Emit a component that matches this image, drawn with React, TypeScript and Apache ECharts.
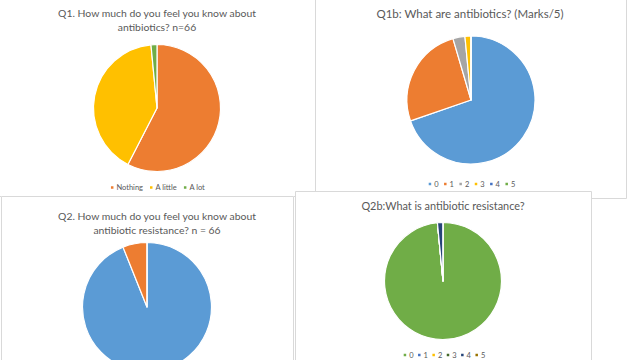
import React, { useEffect, useRef } from "react";
import * as echarts from "echarts";

// ---- Data ----
const q1Categories = ["Nothing", "A little", "A lot"];
const q1Values = [38, 27, 1];

const q1bCategories = ["0", "1", "2", "3", "4", "5"];
const q1bValues = [46, 17, 2, 1, 0, 0];

const q2Categories = ["Nothing", "A little", "A lot"];
const q2Values = [62, 4, 0];

const q2bCategories = ["0", "1", "2", "3", "4", "5"];
const q2bValues = [65, 0, 0, 0, 1, 0];

// ---- Styles ----
const FONT = "Lato, 'Open Sans', sans-serif";
const TITLE_COLOR = "#595959";
const BORDER = "#D9D9D9";

const q1Colors = ["#ED7D31", "#FFC000", "#70AD47"];
const q1bColors = ["#5B9BD5", "#ED7D31", "#A5A5A5", "#FFC000", "#4472C4", "#70AD47"];
const q2Colors = ["#5B9BD5", "#ED7D31", "#A5A5A5"];
const q2bColors = ["#70AD47", "#4472C4", "#FFC000", "#43682B", "#264478", "#997300"];

type Panel = {
  left: number;
  top: number;
  width: number;
  height: number;
  title: string;
  titleX: number;
  titleY: number;
  titleSize: number;
  center: [number, number];
  radius: number;
  legendY: number | null;
  legendGap: number;
  categories: string[];
  values: number[];
  colors: string[];
};

const PANELS: Panel[] = [
  {
    left: -2, top: -2, width: 318, height: 199,
    title: "Q1. How much do you feel you know about\nantibiotics? n=66",
    titleX: 157, titleY: 6, titleSize: 10.4,
    center: [157, 108], radius: 63.5,
    legendY: 188, legendGap: 5,
    categories: q1Categories, values: q1Values, colors: q1Colors,
  },
  {
    left: 1, top: 196, width: 293, height: 170,
    title: "Q2. How much do you feel you know about\nantibiotic resistance? n = 66",
    titleX: 157, titleY: 209, titleSize: 10.4,
    center: [147, 307], radius: 64.5,
    legendY: null, legendGap: 5,
    categories: q2Categories, values: q2Values, colors: q2Colors,
  },
  {
    left: 315, top: -2, width: 312, height: 201,
    title: "Q1b: What are antibiotics? (Marks/5)",
    titleX: 470, titleY: 6, titleSize: 11.5,
    center: [471, 100], radius: 64,
    legendY: 184.5, legendGap: 3.5,
    categories: q1bCategories, values: q1bValues, colors: q1bColors,
  },
  {
    left: 295, top: 191, width: 297, height: 175,
    title: "Q2b:What is antibiotic resistance?",
    titleX: 443, titleY: 198, titleSize: 10.9,
    center: [443, 281], radius: 58.5,
    legendY: 355.5, legendGap: 2.5,
    categories: q2bCategories, values: q2bValues, colors: q2bColors,
  },
];

function buildOption(p: Panel) {
  return {
    animation: false,
    backgroundColor: "#ffffff",
    title: {
      text: p.title,
      left: p.titleX - p.left,
      top: p.titleY - p.top,
      textAlign: "center",
      padding: 0,
      textStyle: {
        fontFamily: FONT,
        fontSize: p.titleSize,
        fontWeight: "normal",
        color: TITLE_COLOR,
        lineHeight: 14,
      },
    },
    legend:
      p.legendY != null
        ? {
            show: true,
            data: p.categories,
            left: "center",
            top: p.legendY - p.top - 4.5,
            icon: "rect",
            itemWidth: 4.5,
            itemHeight: 4.5,
            itemGap: p.legendGap,
            padding: 0,
            selectedMode: false,
            textStyle: {
              fontFamily: FONT,
              fontSize: 7.5,
              color: TITLE_COLOR,
              padding: [0, 0, 0, -3],
            },
          }
        : { show: false },
    graphic: [
      {
        type: "rect",
        silent: true,
        shape: { x: 0.5, y: 0.5, width: p.width - 1, height: p.height - 1 },
        style: { fill: "none", stroke: BORDER, lineWidth: 1 },
      },
    ],
    series: [
      {
        type: "pie",
        center: [p.center[0] - p.left, p.center[1] - p.top],
        radius: p.radius,
        startAngle: 90,
        clockwise: true,
        label: { show: false },
        labelLine: { show: false },
        emphasis: { disabled: true },
        itemStyle: { borderColor: "#ffffff", borderWidth: 1.2 },
        data: p.categories.map((name, i) => ({
          name,
          value: p.values[i],
          itemStyle: { color: p.colors[i] },
        })),
      },
    ],
  };
}

export default function App() {
  const refs = useRef<(HTMLDivElement | null)[]>([]);

  useEffect(() => {
    const charts = PANELS.map((p, i) => {
      const c = echarts.init(refs.current[i] as HTMLDivElement, undefined, { renderer: "svg" });
      c.setOption(buildOption(p) as any);
      return c;
    });
    return () => charts.forEach((c) => c.dispose());
  }, []);

  return (
    <div
      style={{
        position: "fixed",
        left: 0,
        top: 0,
        width: 640,
        height: 360,
        overflow: "hidden",
        background: "#ffffff",
      }}
    >
      {PANELS.map((p, i) => (
        <div
          key={i}
          ref={(el) => {
            refs.current[i] = el;
          }}
          style={{
            position: "absolute",
            left: p.left,
            top: p.top,
            width: p.width,
            height: p.height,
          }}
        />
      ))}
    </div>
  );
}
